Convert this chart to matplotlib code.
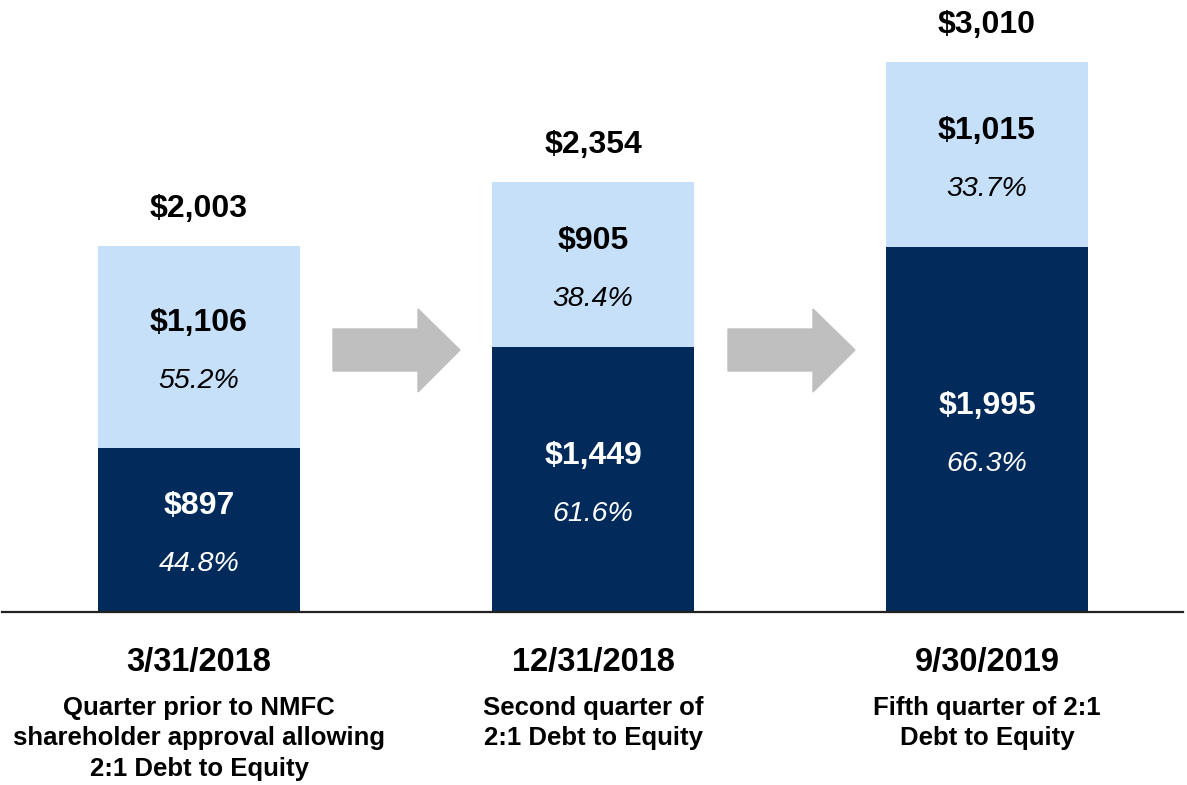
import matplotlib.pyplot as plt
from matplotlib.patches import Polygon

plt.rcParams['font.family'] = ['Liberation Sans', 'DejaVu Sans']

dates = ['3/31/2018', '12/31/2018', '9/30/2019']
notes = ['Quarter prior to NMFC\nshareholder approval allowing\n2:1 Debt to Equity',
         'Second quarter of\n2:1 Debt to Equity',
         'Fifth quarter of 2:1\nDebt to Equity']
bottom_vals = [897, 1449, 1995]
top_vals = [1106, 905, 1015]
bottom_pct = ['44.8%', '61.6%', '66.3%']
top_pct = ['55.2%', '38.4%', '33.7%']
totals = [2003, 2354, 3010]

navy = '#022b5c'
light = '#c6e0f9'
grey = '#bfbfbf'

fig = plt.figure(figsize=(11.87, 7.85), dpi=100)
# axes spans the whole width, bottom sits on the baseline
ax = fig.add_axes([0, (785 - 612) / 785, 1, 612 / 785])
ax.set_xlim(-199 / 394, 2 + 200 / 394)
ax.set_ylim(0, 612 * 2003 / 366)
ax.axis('off')

x = range(len(dates))
w = 202 / 394
ax.bar(x, bottom_vals, width=w, color=navy)
ax.bar(x, top_vals, width=w, bottom=bottom_vals, color=light)

# baseline
ax.plot([-197 / 394, 2 + 196 / 394], [0, 0], color='#222222', lw=1.6, clip_on=False)

for i in x:
    b, t = bottom_vals[i], top_vals[i]
    ax.annotate(f'${b:,}', (i, b / 2), xytext=(0, 17), textcoords='offset points',
                ha='center', va='center', color='white', fontsize=23, fontweight='bold')
    ax.annotate(bottom_pct[i], (i, b / 2), xytext=(0, -24.5), textcoords='offset points',
                ha='center', va='center', color='white', fontsize=20.5, style='italic')
    ax.annotate(f'${t:,}', (i, b + t / 2), xytext=(0, 17), textcoords='offset points',
                ha='center', va='center', color='black', fontsize=23, fontweight='bold')
    ax.annotate(top_pct[i], (i, b + t / 2), xytext=(0, -24.5), textcoords='offset points',
                ha='center', va='center', color='black', fontsize=20.5, style='italic')
    ax.annotate(f'${totals[i]:,}', (i, totals[i]), xytext=(0, 26.5), textcoords='offset points',
                ha='center', va='center', color='black', fontsize=23, fontweight='bold')

# grey arrows between the bars, in figure pixel coords
def arrow(x0):
    W, H = 1187, 785
    pts = [(x0, 329), (x0 + 85, 329), (x0 + 85, 309), (x0 + 127, 350),
           (x0 + 85, 392), (x0 + 85, 371), (x0, 371)]
    pts = [(px / W, 1 - py / H) for px, py in pts]
    fig.patches.append(Polygon(pts, closed=True, color=grey, transform=fig.transFigure))

arrow(333)
arrow(728)

centers = [199, 593, 987]
for i in x:
    fig.text(centers[i] / 1187, 1 - 662 / 785, dates[i], ha='center', va='center',
             fontsize=23.5, fontweight='bold')
    fig.text(centers[i] / 1187, 1 - 696 / 785, notes[i], ha='center', va='top',
             fontsize=18.5, fontweight='bold', linespacing=1.33)

fig.savefig('out.png', dpi=100)
